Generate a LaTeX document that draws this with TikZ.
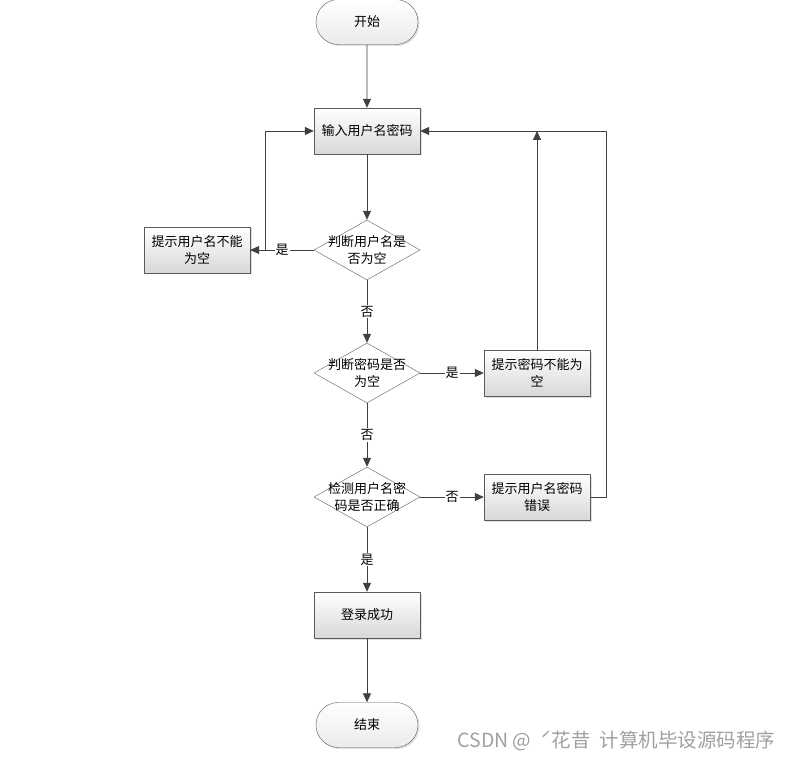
\documentclass[tikz,border=0pt]{standalone}
\usepackage{fontspec}
\setmainfont{Noto Sans CJK SC}
\usetikzlibrary{shapes.geometric,shapes.misc,arrows.meta,shadows}
\definecolor{linegray}{HTML}{404040}
\definecolor{boxgray}{HTML}{5A5A5A}
\definecolor{boxfill}{HTML}{D8D8D8}
\definecolor{markgray}{HTML}{A0A0A0}

\begin{document}
\begin{tikzpicture}[x=1pt,y=-1pt,line join=round,>={Triangle[length=9pt,width=8pt]},
	every node/.style={font=\fontsize{13}{17}\selectfont},
	proc/.style={draw=boxgray,minimum width=106pt,minimum height=46pt,inner sep=2pt,align=center,
		top color=white,bottom color=boxfill,
		drop shadow={shadow xshift=1.5pt,shadow yshift=-1.5pt,opacity=0.25,fill=gray}},
	term/.style={proc,rounded rectangle,minimum height=45pt,bottom color=black!8},
	decision/.style={diamond,draw=boxgray,minimum width=106pt,minimum height=60pt,inner sep=0pt,fill=white},
	dtext/.style={align=center,inner sep=0pt},
	flow/.style={draw=linegray,line width=0.8pt},
	tag/.style={fill=white,inner sep=1pt}]
	\useasboundingbox (0,0) rectangle (795,759);
	% Nodes
	\node[term] (start) at (367,22) {开始};
	\node[proc] (input) at (367,131) {输入用户名密码};
	\node[decision,label={[dtext]center:判断用户名是\\否为空}] (d1) at (367,250) {};
	\node[proc] (hint1) at (197,250) {提示用户名不能\\为空};
	\node[decision,label={[dtext]center:判断密码是否\\为空}] (d2) at (367,373) {};
	\node[proc] (hint2) at (537,373) {提示密码不能为\\空};
	\node[decision,label={[dtext]center:检测用户名密\\码是否正确}] (d3) at (367,497) {};
	\node[proc] (hint3) at (537,497) {提示用户名密码\\错误};
	\node[proc] (ok) at (367,615) {登录成功};
	\node[term] (stop) at (367,725) {结束};
	% Connectors
	\draw[flow,->] (start) -- (input);
	\draw[flow,->] (input) -- (d1);
	\draw[flow,->] (d1) -- node[tag] {是} (hint1);
	\draw[flow,->] (hint1.east) -- ++(15,0) |- (input.west);
	\draw[flow,->] (d1) -- node[tag] {否} (d2);
	\draw[flow,->] (d2) -- node[tag] {是} (hint2);
	\draw[flow,->] (hint2) -- (hint2.north |- input.east);
	\draw[flow,->] (d2) -- node[tag] {否} (d3);
	\draw[flow,->] (d3) -- node[tag] {否} (hint3);
	\draw[flow,->] (hint3.east) -- ++(16,0) |- (input.east);
	\draw[flow,->] (d3) -- node[tag] {是} (ok);
	\draw[flow,->] (ok) -- (stop);
	% Watermark
	\node[text=markgray,anchor=west,font=\fontsize{19.5}{21}\selectfont] (mark) at (454,741) {CSDN @\ \ ˊ花昔\ \ 计算机毕设源码程序};
\end{tikzpicture}
\end{document}
